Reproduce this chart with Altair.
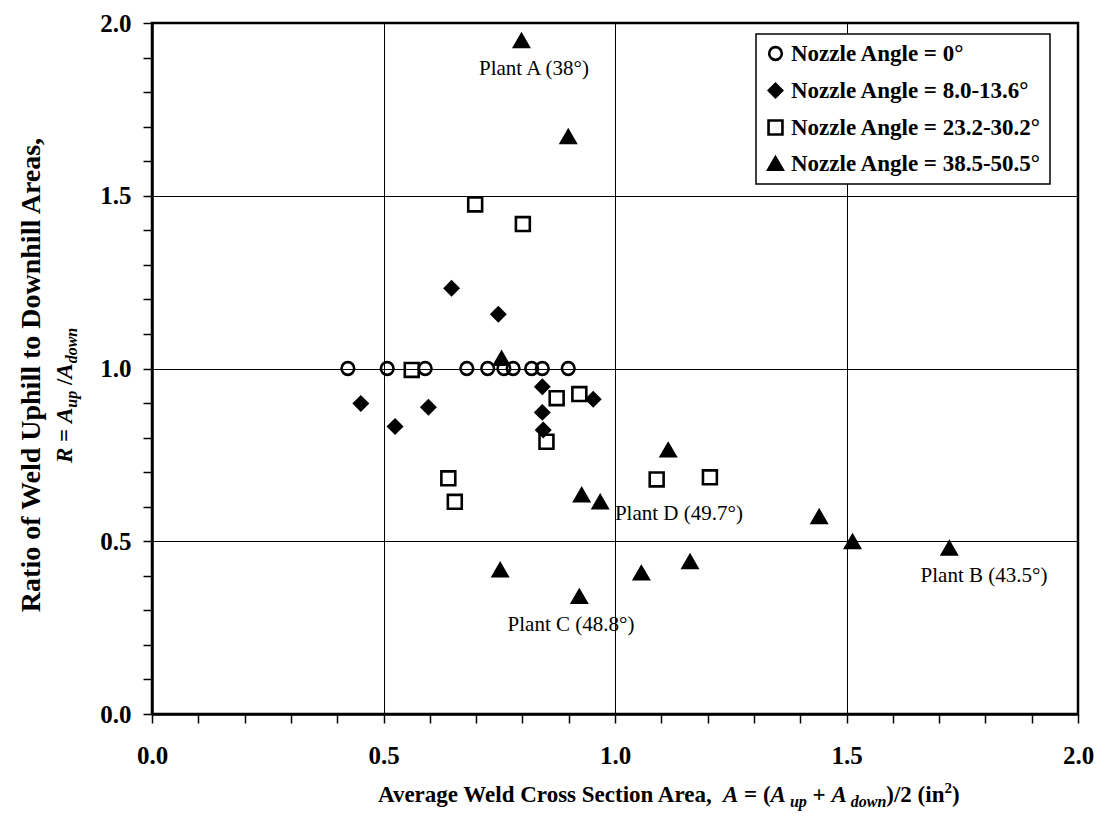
import altair as alt
import pandas as pd

# ---------------- data ----------------
GROUPS = ["Nozzle Angle = 0°", "Nozzle Angle = 8.0-13.6°",
          "Nozzle Angle = 23.2-30.2°", "Nozzle Angle = 38.5-50.5°"]

CIRCLE_X = [0.423, 0.508, 0.590, 0.680, 0.725, 0.760, 0.780, 0.820, 0.843, 0.899]
CIRCLE_Y = [1.000, 1.000, 1.000, 1.000, 1.000, 1.000, 1.000, 1.000, 1.000, 1.000]

DIAMOND_X = [0.451, 0.525, 0.597, 0.647, 0.748, 0.843, 0.843, 0.845, 0.953]
DIAMOND_Y = [0.899, 0.832, 0.888, 1.232, 1.157, 0.947, 0.873, 0.822, 0.911]

SQUARE_X = [0.561, 0.640, 0.654, 0.698, 0.801, 0.852, 0.874, 0.923, 1.090, 1.205]
SQUARE_Y = [0.996, 0.682, 0.614, 1.475, 1.418, 0.788, 0.914, 0.926, 0.679, 0.685]

TRI_X = [0.752, 0.755, 0.798, 0.899, 0.923, 0.928, 0.968, 1.057, 1.115, 1.162, 1.441, 1.513, 1.722]
TRI_Y = [0.417, 1.029, 1.949, 1.671, 0.340, 0.634, 0.614, 0.408, 0.764, 0.441, 0.571, 0.499, 0.480]

ANNOT_LABELS = ["Plant A (38°)", "Plant B (43.5°)", "Plant C (48.8°)", "Plant D (49.7°)"]
ANNOT_X = [0.825, 1.797, 0.905, 1.138]
ANNOT_Y = [1.866, 0.399, 0.258, 0.579]

TICKS = [0.0, 0.1, 0.2, 0.3, 0.4, 0.5, 0.6, 0.7, 0.8, 0.9, 1.0,
         1.1, 1.2, 1.3, 1.4, 1.5, 1.6, 1.7, 1.8, 1.9, 2.0]

# ---------------- tables ----------------
rows = []
for gx, gy, g in [(CIRCLE_X, CIRCLE_Y, GROUPS[0]), (DIAMOND_X, DIAMOND_Y, GROUPS[1]),
                  (SQUARE_X, SQUARE_Y, GROUPS[2]), (TRI_X, TRI_Y, GROUPS[3])]:
    for a, b in zip(gx, gy):
        rows.append({"x": a, "y": b, "group": g})
df = pd.DataFrame(rows)
ann = pd.DataFrame({"x": ANNOT_X, "y": ANNOT_Y, "label": ANNOT_LABELS})

W, H = 926, 691
FONT = "Liberation Serif"

major = "abs(datum.value*2 - round(datum.value*2)) < 0.001"
axis_common = dict(
    values=TICKS,
    tickCount=40,
    labelFlush=False,
    labelOverlap=False,
    labelExpr=f"{major} ? format(datum.value, '.1f') : ''",
    gridOpacity={"condition": {"test": f"{major} && datum.value > 0.01 && datum.value < 1.99", "value": 1}, "value": 0},
    tickSize=9,
    title=None,
)

legend = alt.Legend(title=None, orient="none", legendX=604, legendY=11)

points = alt.Chart(df).mark_point(strokeWidth=2.6, opacity=1, fillOpacity=1, strokeOpacity=1).encode(
    x=alt.X("x:Q", scale=alt.Scale(domain=[0, 2], nice=False, zero=False),
            axis=alt.Axis(labelPadding=20, **axis_common)),
    y=alt.Y("y:Q", scale=alt.Scale(domain=[0, 2], nice=False, zero=False),
            axis=alt.Axis(labelPadding=12, **axis_common)),
    shape=alt.Shape("group:N", scale=alt.Scale(domain=GROUPS, range=["circle", "diamond", "square", "triangle-up"]),
                    legend=legend),
    fill=alt.Fill("group:N", scale=alt.Scale(domain=GROUPS, range=["transparent", "black", "transparent", "black"]),
                  legend=legend),
    stroke=alt.Stroke("group:N", scale=alt.Scale(domain=GROUPS, range=["black", "black", "black", "black"]),
                      legend=legend),
    size=alt.Size("group:N", scale=alt.Scale(domain=GROUPS, range=[160, 210, 175, 225]),
                  legend=legend),
)

annot = alt.Chart(ann).mark_text(font=FONT, fontSize=21, color="black").encode(
    x="x:Q", y="y:Q", text="label:N"
)

# ---------------- rich-text titles (subscripts) ----------------
TB = {' ': 250, 'A': 722, 'C': 722, 'D': 722, 'R': 722, 'S': 556, 'U': 722, 'W': 1000, 'a': 500,
      'c': 444, 'd': 556, 'e': 444, 'f': 333, 'g': 500, 'h': 556, 'i': 278, 'l': 278, 'n': 556,
      'o': 500, 'p': 556, 'r': 444, 's': 389, 't': 333, 'u': 556, 'v': 500, 'w': 722, ',': 250,
      '=': 570, '(': 333, ')': 333, '/': 278, '+': 570, '2': 500}
TBI = {' ': 250, 'A': 667, 'R': 667, 'd': 500, 'o': 500, 'w': 667, 'n': 556, 'u': 556, 'p': 500}


def text_width(s, italic, size):
    table = TBI if italic else TB
    return sum(table.get(c, 500) for c in s) * size / 1000.0


def piece(text, px, py, size, italic, angle=0, align="left", baseline="alphabetic"):
    return alt.Chart(pd.DataFrame({"t": [text]})).mark_text(
        font=FONT, fontSize=size, fontWeight="bold", fontStyle="italic" if italic else "normal",
        align=align, baseline=baseline, angle=angle, color="black"
    ).encode(x=alt.value(px), y=alt.value(py), text="t:N")


F, FS = 23, 16
x_parts = [("Average Weld Cross Section Area, ", False, F, 0), ("A", True, F, 0), (" = (", False, F, 0),
           ("A", True, F, 0), (" up", True, FS, 5), (" + ", False, F, 0), ("A", True, F, 0),
           (" down", True, FS, 5), (")/2 (in", False, F, 0), ("2", False, 15, -9), (")", False, F, 0)]
title_layers = []
cur = 378 - 152
base_y = 802 - 23
for txt, it, sz, dy in x_parts:
    lead = len(txt) - len(txt.lstrip(' '))
    s = txt.strip(' ')
    title_layers.append(piece(s, cur + text_width(' ' * lead, it, sz), base_y + dy, sz, it))
    cur += text_width(txt, it, sz)

# y title line 1
title_layers.append(piece("Ratio of Weld Uphill to Downhill Areas,", 32 - 152, 375 - 23, 28, False,
                          angle=270, align="center", baseline="middle"))
# y title line 2 (rotated, built bottom-up)
F2, FS2 = 23, 16
y_parts = [("R", True, F2, 0), (" = ", False, F2, 0), ("A", True, F2, 0), ("up", True, FS2, 5),
           (" /", False, F2, 0), ("A", True, F2, 0), ("down", True, FS2, 5)]
cur = 0
anchor_x = 72 - 152
start_y = 463 - 23
for txt, it, sz, dx in y_parts:
    lead = len(txt) - len(txt.lstrip(' '))
    s = txt.strip(' ')
    title_layers.append(piece(s, anchor_x + dx, start_y - cur - text_width(' ' * lead, it, sz), sz, it, angle=270))
    cur += text_width(txt, it, sz)

chart = alt.layer(points, annot, *title_layers).properties(
    width=W, height=H,
    autosize=alt.AutoSizeParams(type="none"),
    padding={"left": 152, "top": 23, "right": 22, "bottom": 103},
    background="white",
).configure_view(
    stroke="black", strokeWidth=2.5
).configure_axis(
    domainColor="black", domainWidth=2.5, tickColor="black", tickWidth=1.5,
    gridColor="black", gridWidth=1,
    labelFont=FONT, labelFontSize=25, labelFontWeight="bold", labelColor="black",
).configure_legend(
    strokeColor="black", strokeWidth=1.5, fillColor="white", padding=8, rowPadding=12,
    labelFont=FONT, labelFontSize=23, labelFontWeight="bold", labelColor="black", labelLimit=500,
    labelOffset=4, symbolStrokeWidth=2.6, symbolStrokeColor="black",
)

chart.save("out.html", embed_options={"renderer": "svg", "actions": False})
